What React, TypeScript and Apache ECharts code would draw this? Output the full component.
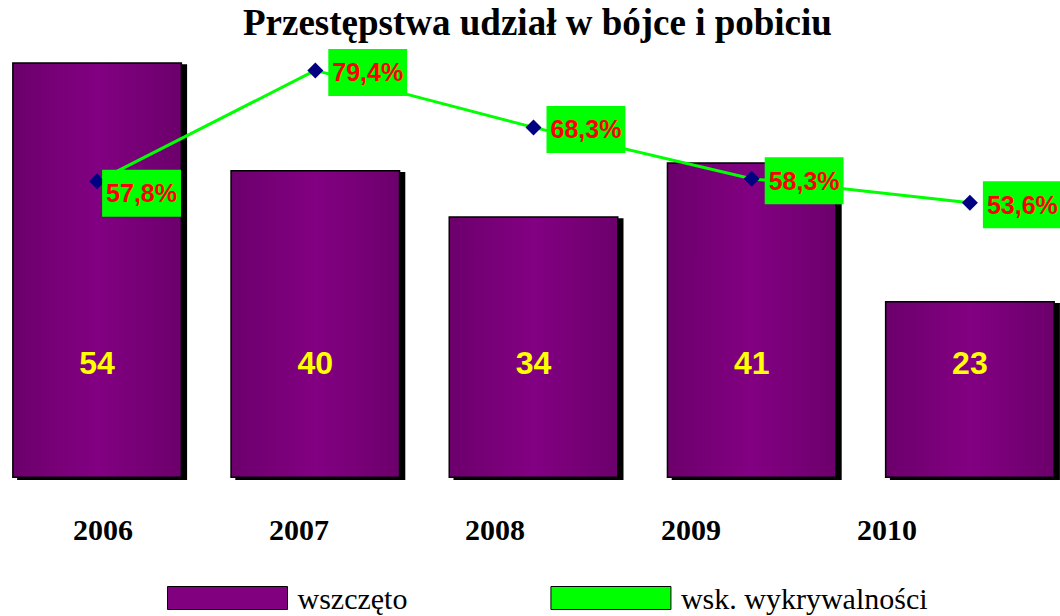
import React, { useEffect, useRef } from "react";
import * as echarts from "echarts";

const years = ["2006", "2007", "2008", "2009", "2010"];
const wszczeto = [54, 40, 34, 41, 23];
const wykrywalnosc = [57.8, 79.4, 68.3, 58.3, 53.6];
const title = "Przestępstwa udział w bójce i pobiciu";
const seriesNames = ["wszczęto", "wsk. wykrywalności"];

const fmtPct = (v: number) => v.toFixed(1).replace(".", ",") + "%";

export default function App() {
  const ref = useRef<HTMLDivElement>(null);
  useEffect(() => {
    document.body.style.margin = "0";
    const chart = echarts.init(ref.current!, null, { renderer: "svg" });
    const labelLevel = 14.9;
    chart.setOption({
      animation: false,
      backgroundColor: "#ffffff",
      title: {
        text: title,
        left: 243,
        top: 4,
        padding: 0,
        textStyle: {
          fontFamily: "'Liberation Serif', 'Times New Roman', serif",
          fontWeight: "bold",
          fontSize: 37,
          color: "#000",
        },
      },
      legend: {
        left: 162,
        top: 578,
        padding: 5,
        itemWidth: 120,
        itemHeight: 23,
        itemGap: 143,
        icon: "rect",
        textStyle: {
          fontFamily: "'Liberation Serif', 'Times New Roman', serif",
          fontSize: 30,
          lineHeight: 30,
          color: "#000",
          padding: [0, 0, 0, 5],
        },
        data: [
          { name: seriesNames[0], itemStyle: { color: "#800080", borderColor: "#000", borderWidth: 1 } },
          { name: seriesNames[1], itemStyle: { color: "#00ff00", borderColor: "#000", borderWidth: 1 } },
        ],
      },
      grid: [
        { left: -12, width: 1091, top: 16, bottom: 138, outerBoundsMode: "none", containLabel: false },
        { left: 5, width: 980, top: 16, bottom: 138, outerBoundsMode: "none", containLabel: false },
      ],
      xAxis: [
        {
          type: "category",
          data: years,
          gridIndex: 0,
          axisLine: { show: false },
          axisTick: { show: false },
          axisLabel: { show: false },
        },
        {
          type: "category",
          data: years,
          gridIndex: 1,
          axisLine: { show: false },
          axisTick: { show: false },
          axisLabel: {
            margin: 36,
            fontFamily: "'Liberation Serif', 'Times New Roman', serif",
            fontWeight: "bold",
            fontSize: 30,
            color: "#000",
          },
        },
      ],
      yAxis: [
        { type: "value", min: 0, max: 60, show: false, gridIndex: 0 },
        { type: "value", min: 0, max: 90, show: false, gridIndex: 0 },
        { type: "value", min: 0, max: 60, show: false, gridIndex: 1 },
      ],
      series: [
        {
          name: seriesNames[0],
          type: "bar",
          xAxisIndex: 0,
          yAxisIndex: 0,
          data: wszczeto,
          barWidth: 170,
          itemStyle: {
            color: new echarts.graphic.LinearGradient(0, 0, 1, 0, [
              { offset: 0, color: "#6c006c" },
              { offset: 0.5, color: "#820082" },
              { offset: 1, color: "#6c006c" },
            ]),
            borderColor: "#000",
            borderWidth: 1.5,
            shadowColor: "#000",
            shadowBlur: 0,
            shadowOffsetX: 5,
            shadowOffsetY: 2,
          },
        },
        {
          name: "labels",
          type: "scatter",
          xAxisIndex: 0,
          yAxisIndex: 0,
          symbolSize: 0,
          itemStyle: { opacity: 1 },
          data: wszczeto.map(() => labelLevel),
          label: {
            show: true,
            position: "inside",
            formatter: (p: any) => String(wszczeto[p.dataIndex]),
            color: "#ffff00",
            fontFamily: "'Liberation Sans', Arial, sans-serif",
            fontWeight: "bold",
            fontSize: 32,
          },
          silent: true,
        },
        {
          name: seriesNames[1],
          type: "line",
          xAxisIndex: 0,
          yAxisIndex: 1,
          data: wykrywalnosc.map((v, i) =>
            i === 0 ? { value: v, label: { distance: -3, offset: [0, 12] } } : v
          ),
          symbol: "diamond",
          symbolSize: 16,
          lineStyle: { color: "#00ff00", width: 3 },
          itemStyle: { color: "#000080" },
          label: {
            show: true,
            position: "right",
            distance: 5,
            offset: [0, 2],
            formatter: (p: any) => fmtPct(p.value),
            backgroundColor: "#00ff00",
            color: "#ff0000",
            fontFamily: "'Liberation Sans', Arial, sans-serif",
            fontWeight: "bold",
            fontSize: 25,
            lineHeight: 25,
            padding: [11, 4, 11, 4],
          },
          z: 5,
        },
      ],
    });
    return () => chart.dispose();
  }, []);
  return <div ref={ref} style={{ width: 1060, height: 616 }} />;
}
